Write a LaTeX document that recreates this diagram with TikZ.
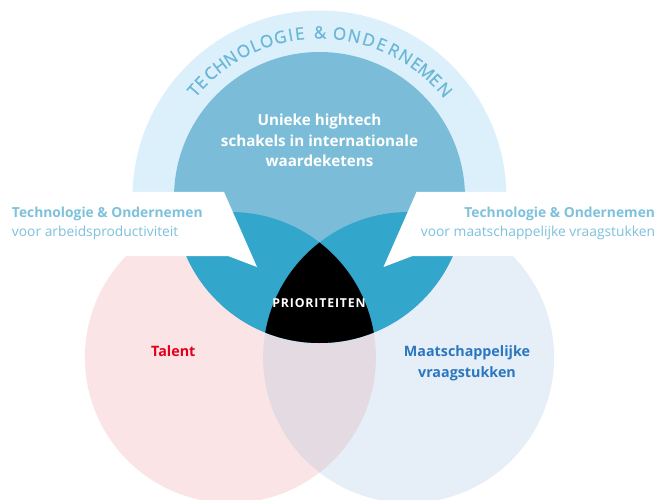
\documentclass[tikz,border=0pt]{standalone}
\usepackage{fontspec}
\setmainfont{Open Sans}
\newfontfamily\arcfont{Open Sans}[FakeBold=0.9]
\usetikzlibrary{calc}
\definecolor{bandc}{HTML}{DCF0FB}
\definecolor{topc}{HTML}{7BBDD8}
\definecolor{darkc}{HTML}{33A6CC}
\definecolor{pinkc}{HTML}{FBE4E6}
\definecolor{bluec}{HTML}{E6EFF8}
\definecolor{lensc}{HTML}{E4DAE2}
\definecolor{calltext}{HTML}{7EC1DD}
\definecolor{arctext}{HTML}{6AB7D7}
\definecolor{redc}{HTML}{E2001A}
\definecolor{maatc}{HTML}{2A76BF}
\tikzset{
  lbl/.style={inner sep=0pt, outer sep=0pt},
  toptext/.style={lbl, anchor=base, text=white, font=\bfseries\fontsize{15.2}{20}\selectfont},
  callbold/.style={lbl, text=calltext, font=\bfseries\fontsize{13.8}{18}\selectfont},
  callreg/.style={lbl, text=calltext, font=\fontsize{13.8}{18}\selectfont},
  arcletter/.style={lbl, anchor=base, text=arctext, font=\arcfont\fontsize{17}{18}\selectfont},
  circlabel/.style={lbl, anchor=base, font=\bfseries\fontsize{14.3}{18}\selectfont}
}
\begin{document}
\begin{tikzpicture}[x=1pt,y=1pt]
\useasboundingbox (0,0) rectangle (659,499);
\coordinate (T) at (319.5,301.5);
\coordinate (L) at (230.4,141.5);
\coordinate (R) at (408.6,141.5);
% outer band
\begin{scope}
  \clip (0,243) rectangle (659,499);
  \fill[bandc] (T) circle (187);
\end{scope}
% lower circles
\fill[pinkc] (L) circle (145.5);
\fill[bluec] (R) circle (145.5);
\begin{scope}
  \clip (L) circle (145.5);
  \fill[lensc] (R) circle (145.5);
\end{scope}
% top circle
\fill[topc] (T) circle (145.5);
\begin{scope}
  \clip (T) circle (145.5);
  \fill[darkc] (L) circle (145.5);
  \fill[darkc] (R) circle (145.5);
  \clip (L) circle (145.5);
  \fill[black] (R) circle (145.5);
\end{scope}
% callouts
\fill[white] (0,307) -- (224,307) -- (257,232) -- (228,243) -- (0,243) -- cycle;
\fill[white] (659,307) -- (416.5,307) -- (383.5,232) -- (412.5,243) -- (659,243) -- cycle;
% curved title
\foreach \ch/\a [count=\i] in {T/-49.5, E/-45.9, C/-41.4, H/-37.1, N/-32.6, O/-27.4, L/-23.0, O/-18.7, G/-13.8, I/-10.1, E/-6.9, \&/0.2, O/7.0, N/12.2, D/17.4, E/22.1, R/26.8, N/31.5, E/36.0, M/40.3, E/44.6, N/49.3}
  \node[arcletter, rotate=-\a] (arc\i) at ($(T)+({90-\a}:159)$) {\ch};
% top circle text
\node[toptext] (u1) at (319.5,373) {Unieke hightech};
\node[toptext] (u2) at (319.5,352.3) {schakels in internationale};
\node[toptext] (u3) at (319.5,332.3) {waardeketens};
% callout texts
\node[callbold, anchor=base west] (cl1) at (12,282) {Technologie \& Ondernemen};
\node[callreg, anchor=base west] (cl2) at (12,262.3) {voor arbeidsproductiviteit};
\node[callbold, anchor=base east] (cr1) at (655,282) {Technologie \& Ondernemen};
\node[callreg, anchor=base east] (cr2) at (655,262.3) {voor maatschappelijke vraagstukken};
% centre
\node[lbl, anchor=base, text=white, font=\bfseries\fontsize{12.3}{14}\selectfont\addfontfeature{LetterSpace=7}] (prio) at (319,191.3) {PRIORITEITEN};
% circle labels
\node[circlabel, text=redc] (talent) at (173.3,143) {Talent};
\node[circlabel, text=maatc] (maat1) at (467,142.3) {Maatschappelijke};
\node[circlabel, text=maatc] (maat2) at (467,121.3) {vraagstukken};
\end{tikzpicture}
\end{document}
